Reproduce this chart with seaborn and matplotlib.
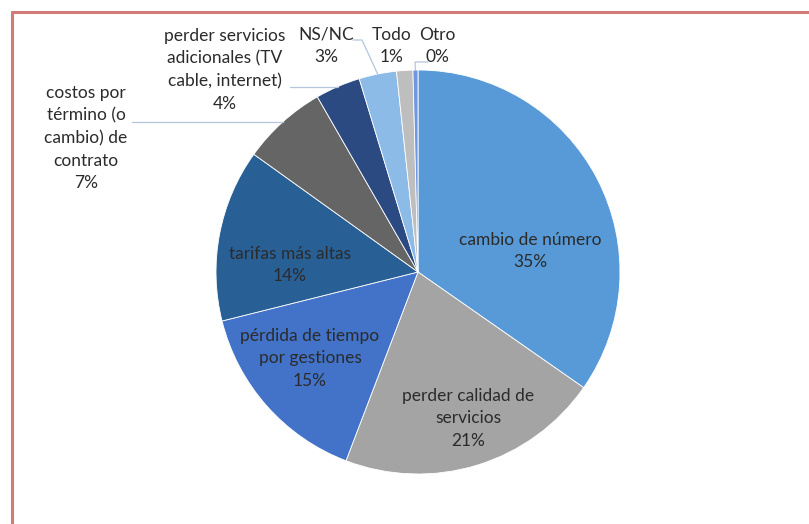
import numpy as np
import matplotlib.pyplot as plt
import seaborn as sns
from matplotlib.lines import Line2D

# data (percent shares, clockwise from 12 o'clock)
categorias = ["cambio de número", "perder calidad de\nservicios", "pérdida de tiempo\npor gestiones",
              "tarifas más altas", "costos por\ntérmino (o\ncambio) de\ncontrato",
              "perder servicios\nadicionales (TV\ncable, internet)", "NS/NC", "Todo", "Otro"]
valores = [34.7, 21.1, 15.3, 13.8, 6.8, 3.6, 3.0, 1.3, 0.4]
colores = ["#589ad8", "#a4a4a4", "#4273c8", "#285f95", "#656565",
           "#2c4a82", "#8bbbe6", "#bebebe", "#7197dc"]

sns.set_theme(style="white")
plt.rcParams["font.family"] = ["Lato", "DejaVu Sans"]

W, H = 809, 524
CX, CY, R = 418, 272, 202


def px(x, y):
    return (x - CX) / R, (CY - y) / R


fig = plt.figure(figsize=(W / 100, H / 100), dpi=100)
ax = fig.add_axes([0, 0, 1, 1])
wedges, _ = ax.pie(valores, colors=colores, startangle=90, counterclock=False,
                   radius=1, wedgeprops=dict(edgecolor="white", linewidth=0.6))
ax.set_xlim(-CX / R, (W - CX) / R)
ax.set_ylim(-(H - CY) / R, CY / R)
ax.set_aspect("equal")
ax.axis("off")

# label centres in pixels
pos_etiquetas = [(530, 251), (468, 418), (310, 358), (290, 265), (86, 138),
                 (225, 70), (326, 46), (392, 46), (437, 46)]
txt_color = "#2b2b2b"
for cat, v, (lx, ly) in zip(categorias, valores, pos_etiquetas):
    x, y = px(lx, ly)
    ax.text(x, y, f"{cat}\n{round(v):d}%", ha="center", va="center",
            fontsize=12.5, color=txt_color, linespacing=1.5)

# leader lines for outside labels
lead_color = "#b4c5dc"


def mid_point(w):
    a = np.deg2rad((w.theta1 + w.theta2) / 2)
    return np.cos(a), np.sin(a)


lineas = {4: [(132, 122)], 5: [(290, 87)], 6: [(353, 40), (362, 40)], 8: [(428, 62), (415, 62)]}
for i, pts in lineas.items():
    xs = [px(*p)[0] for p in pts]
    ys = [px(*p)[1] for p in pts]
    mx, my = mid_point(wedges[i])
    if i in (4, 5):
        xs.append(mx)
        ys.append(ys[-1])
    else:
        xs.append(mx)
        ys.append(my)
    ax.plot(xs, ys, color=lead_color, lw=0.9)

# red frame (top and left)
fc = "#d27b77"
fig.add_artist(Line2D([12 / W, 1], [1 - 12 / H, 1 - 12 / H], color=fc, lw=2.2, transform=fig.transFigure))
fig.add_artist(Line2D([12 / W, 12 / W], [0, 1 - 12 / H], color=fc, lw=2.2, transform=fig.transFigure))

fig.savefig("out.png", dpi=100)
